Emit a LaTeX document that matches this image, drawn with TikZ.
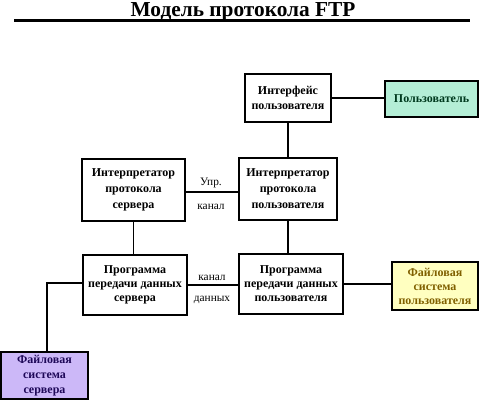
\documentclass[tikz,border=0pt]{standalone}
\usepackage{fontspec}
\setmainfont{Liberation Serif}
\definecolor{usrfill}{HTML}{B4EED6}
\definecolor{usrtext}{HTML}{003A1E}
\definecolor{ufsfill}{HTML}{FFFFC0}
\definecolor{ufstext}{HTML}{806000}
\definecolor{sfsfill}{HTML}{CCB8F8}
\definecolor{sfstext}{HTML}{1E0858}
\tikzset{
  box/.style={draw=black, line width=0.8pt, fill=white, align=center, inner sep=0pt,
    font=\fontsize{9}{11.5}\selectfont\bfseries},
  wire/.style={draw=black, line width=0.8pt},
  lbl/.style={font=\fontsize{8.5}{10}\selectfont, inner sep=0pt}
}
\begin{document}
\begin{tikzpicture}[x=0.75pt, y=-0.75pt]
\useasboundingbox (0,0) rectangle (486,400);
% title
\node[font=\fontsize{16}{18}\selectfont\bfseries, anchor=base, inner sep=0pt] (title) at (243,16) {Модель протокола FTP};
\coordinate (tl) at (14,20.8);
\coordinate (tr) at (470,20.8);
\draw[line width=2.3pt] (tl) -- (tr);
% boxes
\node[box, minimum width=86*0.75pt, minimum height=48*0.75pt] (ui) at (288,98) {Интерфейс\\пользователя};
\node[box, fill=usrfill, text=usrtext, minimum width=93*0.75pt, minimum height=36*0.75pt] (usr) at (431.5,99) {Пользователь};
\node[box, font=\fontsize{9}{12}\selectfont\bfseries, minimum width=103*0.75pt, minimum height=62*0.75pt] (spi) at (133.5,190) {Интерпретатор\\протокола\\сервера};
\node[box, font=\fontsize{9}{12}\selectfont\bfseries, minimum width=98*0.75pt, minimum height=62*0.75pt] (upi) at (288,189) {Интерпретатор\\протокола\\пользователя};
\node[box, font=\fontsize{9}{10.5}\selectfont\bfseries, minimum width=104*0.75pt, minimum height=60*0.75pt] (sdtp) at (135,285) {Программа\\передачи данных\\сервера};
\node[box, font=\fontsize{9}{10.5}\selectfont\bfseries, minimum width=104*0.75pt, minimum height=60*0.75pt] (udtp) at (291,284) {Программа\\передачи данных\\пользователя};
\node[box, font=\fontsize{9}{10.5}\selectfont\bfseries, fill=ufsfill, text=ufstext, minimum width=86*0.75pt, minimum height=48*0.75pt] (ufs) at (435,286) {Файловая\\система\\пользователя};
\node[box, font=\fontsize{9}{11}\selectfont\bfseries, fill=sfsfill, text=sfstext, minimum width=87*0.75pt, minimum height=47*0.75pt] (sfs) at (44.5,375.5) {Файловая\\система\\сервера};
% connectors
\draw[wire] (ui.east) -- (ui.east -| usr.west);
\draw[wire] (ui.south) -- (ui.south |- upi.north);
\draw[wire] (upi.south) -- (upi.south |- udtp.north);
\draw[wire] (spi.south) -- (spi.south |- sdtp.north);
\draw[wire] ([yshift=-1.5pt]spi.east) -- ([yshift=-1.5pt]spi.east -| upi.west);
\draw[wire] (sdtp.east) -- (sdtp.east -| udtp.west);
\draw[wire] (udtp.east) -- (udtp.east -| ufs.west);
\coordinate (bend) at (47,283);
\draw[wire] (bend -| sdtp.west) -- (bend) -- (bend |- sfs.north);
% labels
\node[lbl] (l1) at (211,183) {Упр.};
\node[lbl] (l2) at (211,207) {канал};
\node[lbl] (l3) at (212,278) {канал};
\node[lbl] (l4) at (212,300) {данных};
\end{tikzpicture}
\end{document}
